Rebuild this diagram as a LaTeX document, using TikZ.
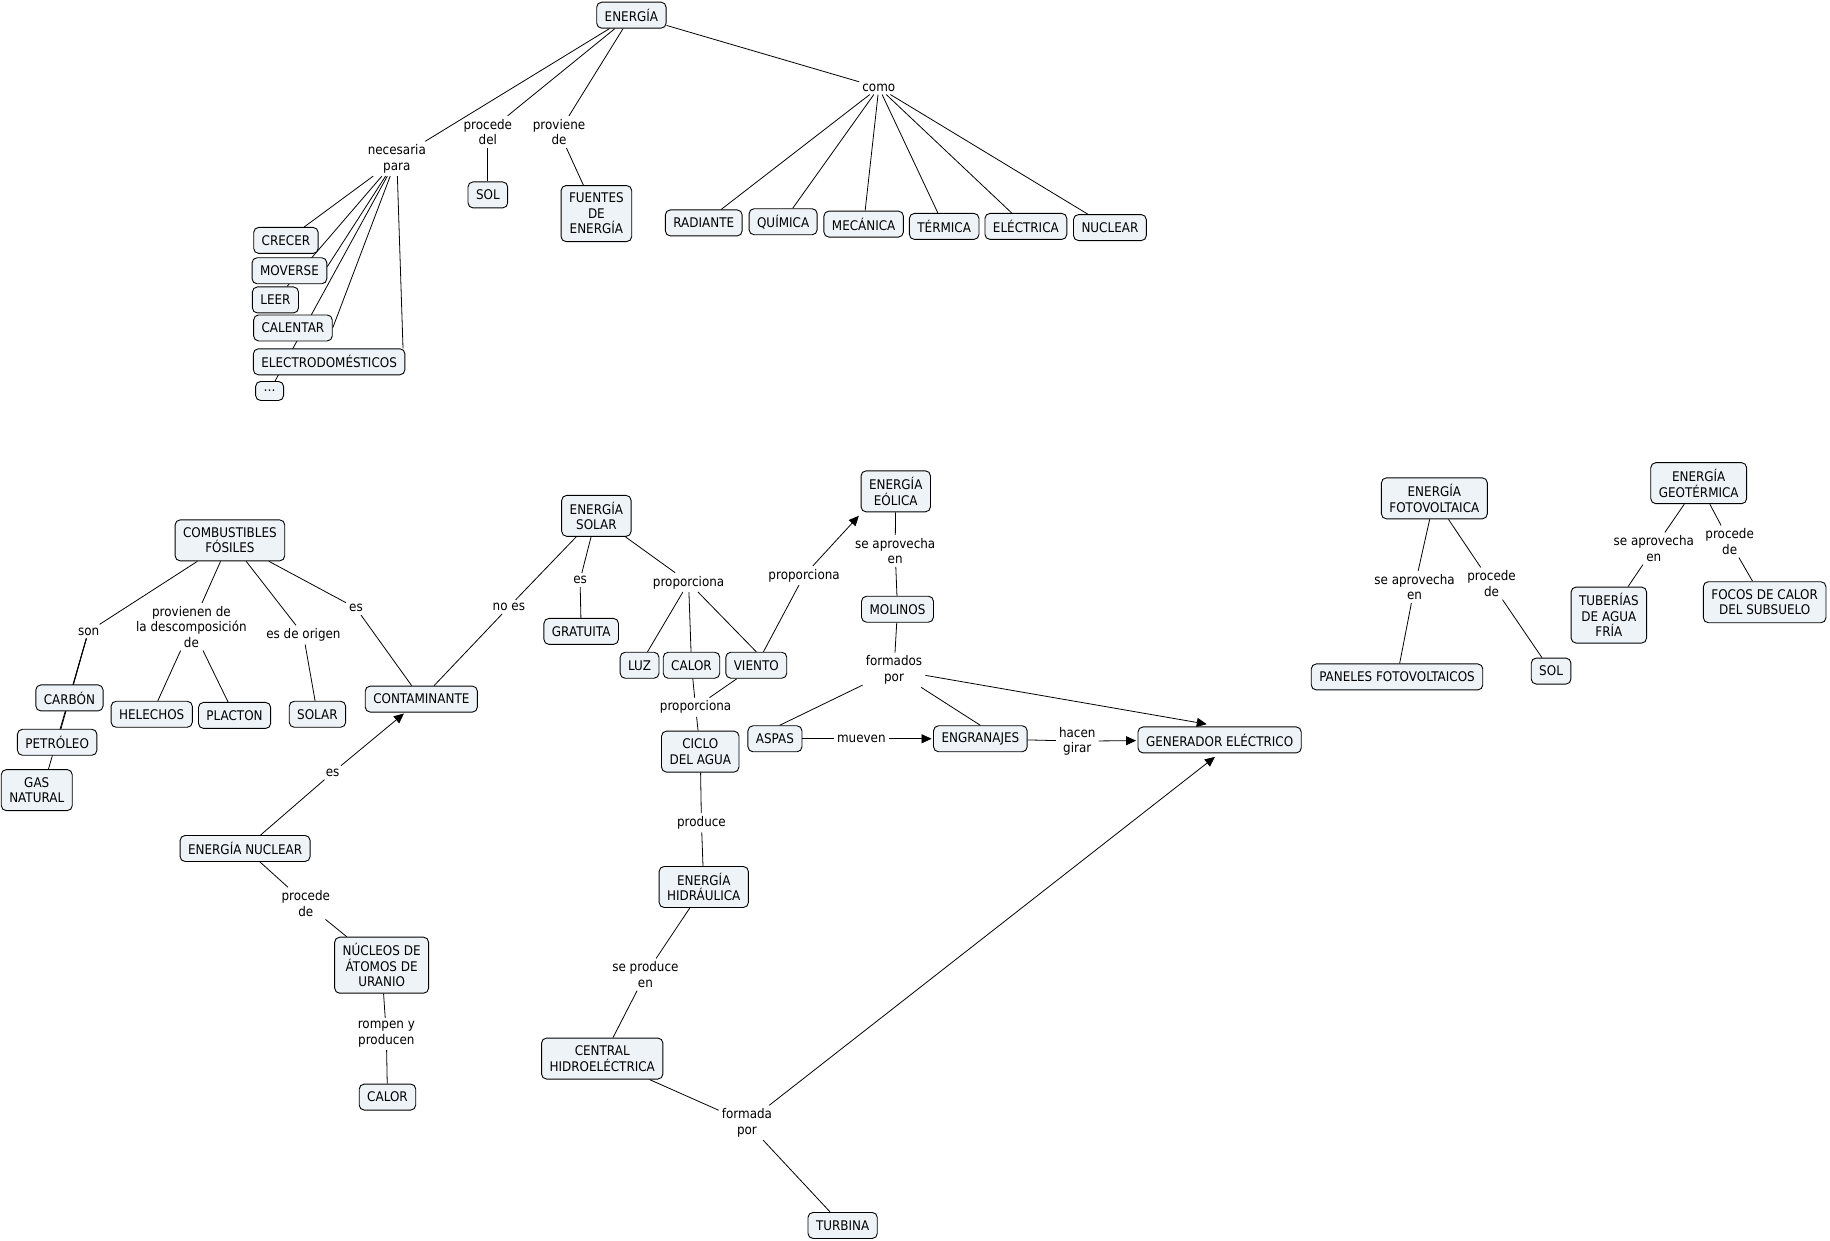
\documentclass[tikz,border=0pt]{standalone}
\usepackage{fontspec}
\setmainfont{DejaVu Sans}[FakeStretch=0.9]
\usetikzlibrary{arrows.meta,calc}
\definecolor{cfill}{RGB}{237,243,246}
\pgfdeclarelayer{bg}
\pgfsetlayers{bg,main}
\begin{document}
\begin{tikzpicture}[x=1.1671pt,y=-1.1671pt,
  every node/.style={font=\fontsize{13.3}{15.5}\selectfont},
  cc/.style={draw=black,line width=0.9pt,fill=cfill,rounded corners=5pt,inner xsep=8pt,inner ysep=2pt,align=center,minimum height=26pt},
  cc2/.style={cc,minimum height=41pt},
  cc3/.style={cc,minimum height=56pt},
  lp/.style={inner xsep=3pt,inner ysep=3pt,align=center},
  ln/.style={line width=0.8pt},
  ar/.style={ln,-{Triangle[length=10pt,width=9pt]}}]
\useasboundingbox (0,0) rectangle (1568,1063);
% ---------- top cluster
\node[cc] (energia) at (541,13) {ENERGÍA};
\node[lp] (np) at (340,136) {necesaria\\para};
\node[lp] (pd) at (418,113) {procede\\del};
\node[lp] (pv) at (479,113) {proviene\\de};
\node[lp] (como) at (753,75) {como};
\node[cc] (sol1) at (418,167) {SOL};
\node[cc3] (fuentes) at (511,183) {FUENTES\\DE\\ENERGÍA};
\node[cc] (radiante) at (603,191) {RADIANTE};
\node[cc] (quimica) at (671,190) {QUÍMICA};
\node[cc] (mecanica) at (740,192) {MECÁNICA};
\node[cc] (termica) at (809,194) {TÉRMICA};
\node[cc] (electrica) at (879,194) {ELÉCTRICA};
\node[cc] (nuclear) at (951,195) {NUCLEAR};
\node[cc] (crecer) at (245,206) {CRECER};
\node[cc] (moverse) at (248,232) {MOVERSE};
\node[cc] (leer) at (236,257) {LEER};
\node[cc] (calentar) at (251,281) {CALENTAR};
\node[cc] (electro) at (282,310) {ELECTRODOMÉSTICOS};
\node[cc,minimum height=19pt] (dots) at (231,335) {…};
% ---------- fossil fuels
\node[cc2] (comb) at (197,463) {COMBUSTIBLES\\FÓSILES};
\node[lp] (son) at (76,541) {son};
\coordinate (sonb) at ($(son.south)+(-2,0)$);
\node[lp] (prov) at (164,537) {provienen de\\la descomposición\\de};
\node[lp] (eso) at (260,544) {es de origen};
\node[lp] (es1) at (305,521) {es};
\node[cc] (carbon) at (59.5,598) {CARBÓN};
\node[cc] (petroleo) at (49,636) {PETRÓLEO};
\node[cc2] (gas) at (31.5,677) {GAS\\NATURAL};
\node[cc] (helechos) at (130,612) {HELECHOS};
\node[cc] (placton) at (201,613) {PLACTON};
\node[cc] (solar) at (272,612) {SOLAR};
\node[cc] (conta) at (361,599) {CONTAMINANTE};
% ---------- nuclear
\node[cc] (nucl) at (210,727) {ENERGÍA NUCLEAR};
\node[lp] (es2) at (285,662) {es};
\node[lp] (pdn) at (262,774) {procede\\de};
\node[cc3] (nucleos) at (327,827) {NÚCLEOS DE\\ÁTOMOS DE\\URANIO};
\node[lp] (romp) at (331,886) {rompen y\\producen};
\node[cc] (calor2) at (332,940) {CALOR};
% ---------- solar / wind / water
\node[cc2] (esolar) at (511,442) {ENERGÍA\\SOLAR};
\node[lp] (noes) at (436,520) {no es};
\node[lp] (es3) at (497,497) {es};
\node[lp] (prop1) at (590,499) {proporciona};
\node[cc] (gratuita) at (498,541) {GRATUITA};
\node[cc] (luz) at (548,570) {LUZ};
\node[cc] (calor1) at (592.5,570) {CALOR};
\node[cc] (viento) at (648,570) {VIENTO};
\node[lp] (prop2) at (596,606) {proporciona};
\node[cc2] (ciclo) at (600,644) {CICLO\\DEL AGUA};
\node[lp] (prop3) at (689,493) {proporciona};
\node[cc2] (eolica) at (767.5,421) {ENERGÍA\\EÓLICA};
\node[lp] (sae) at (767,472) {se aprovecha\\en};
\node[cc] (molinos) at (769,522) {MOLINOS};
\node[lp] (fp) at (766,574) {formados\\por};
\node[cc] (aspas) at (664,633) {ASPAS};
\node[lp] (mueven) at (738,633) {mueven};
\node[cc] (engr) at (840,633) {ENGRANAJES};
\node[lp] (hg) at (923,635) {hacen\\girar};
\node[cc] (gen) at (1045,634) {GENERADOR ELÉCTRICO};
\node[lp] (produce) at (601,705) {produce};
\node[cc2] (hidra) at (603,760) {ENERGÍA\\HIDRÁULICA};
\node[lp] (spe) at (553,835) {se produce\\en};
\node[cc2] (central) at (516,907) {CENTRAL\\HIDROELÉCTRICA};
\node[lp] (fdp) at (640,962) {formada\\por};
\node[cc] (turbina) at (722,1050) {TURBINA};
% ---------- right
\node[cc2] (foto) at (1229,427) {ENERGÍA\\FOTOVOLTAICA};
\node[lp] (sae2) at (1212,503) {se aprovecha\\en};
\node[lp] (pdf) at (1278,500) {procede\\de};
\node[cc] (paneles) at (1197,580) {PANELES FOTOVOLTAICOS};
\node[cc] (sol2) at (1329,575) {SOL};
\node[cc2] (geo) at (1455.5,414) {ENERGÍA\\GEOTÉRMICA};
\node[lp] (sae3) at (1417,470) {se aprovecha\\en};
\node[lp] (pdg) at (1482,464) {procede\\de};
\node[cc3] (tuberias) at (1378.5,527) {TUBERÍAS\\DE AGUA\\FRÍA};
\node[cc2] (focos) at (1512,516) {FOCOS DE CALOR\\DEL SUBSUELO};
% ---------- connectors
\begin{pgfonlayer}{bg}
\draw[ln] (energia) -- (np);
\draw[ln] (energia) -- (pd);
\draw[ln] (energia) -- (pv);
\draw[ln] (energia) -- (como);
\draw[ln] (pd) -- (sol1);
\draw[ln] (pv) -- (fuentes);
\foreach \t in {radiante,quimica,mecanica,termica,electrica,nuclear}
  \draw[ln] (como) -- (\t);
\draw[ln] (np) -- (crecer);
\draw[ln] (np) -- (leer);
\draw[ln] (np) -- ($(moverse.east)+(0,-3.5)$);
\draw[ln] (np) -- (dots);
\draw[ln] (np) -- (calentar.east);
\draw[ln] (np) -- ($(electro.north east)+(-2,0)$);
\draw[ln] (comb) -- (son);
\draw[ln] (sonb) -- (carbon);
\draw[ln] (sonb) -- (petroleo);
\draw[ln] (sonb) -- ($(gas.north)+(10,0)$);
\draw[ln] (comb) -- (prov);
\draw[ln] (prov) -- (helechos);
\draw[ln] (prov) -- (placton);
\draw[ln] (comb) -- (eso);
\draw[ln] (eso) -- (solar);
\draw[ln] (comb) -- (es1);
\draw[ln] (es1) -- (conta);
\draw[ln] (nucl) -- (es2);
\draw[ar,shorten >=1.5pt] (es2) -- (conta);
\draw[ln] (nucl) -- (pdn);
\draw[ln] (pdn) -- (nucleos);
\draw[ln] (nucleos) -- (romp);
\draw[ln] (romp) -- (calor2);
\draw[ln] (esolar) -- (noes);
\draw[ln] (noes) -- (conta);
\draw[ln] (esolar) -- (es3);
\draw[ln] (es3) -- (gratuita);
\draw[ln] (esolar) -- (prop1);
\draw[ln] (prop1) -- (luz);
\draw[ln] (prop1) -- (calor1);
\draw[ln] (prop1) -- (viento.north);
\draw[ln] (calor1) -- (prop2);
\draw[ln] (viento) -- (prop2);
\draw[ln] (prop2) -- (ciclo);
\draw[ln] (viento) -- (prop3);
\draw[ar] (prop3) -- ($(eolica.south west)+(-1.5,3)$);
\draw[ln] (eolica) -- (sae);
\draw[ln] (sae) -- (molinos);
\draw[ln] (molinos) -- (fp);
\draw[ln] (fp) -- ($(aspas.north)+(4,0)$);
\draw[ln] (fp) -- (engr.north);
\draw[ar] (fp) -- ($(gen.north)+(-11,-2)$);
\draw[ln] (aspas) -- (mueven);
\draw[ar,shorten >=1.5pt] (mueven) -- (engr);
\draw[ln] (engr) -- (hg);
\draw[ar,shorten >=1.5pt] (hg) -- (gen);
\draw[ln] (ciclo) -- (produce);
\draw[ln] (produce) -- (hidra);
\draw[ln] (hidra) -- (spe);
\draw[ln] (spe) -- (central);
\draw[ln] (central) -- (fdp);
\draw[ln] (fdp) -- (turbina);
\draw[ar] (fdp) -- ($(gen.south)+(-4,3)$);
\draw[ln] (foto) -- (sae2);
\draw[ln] (sae2) -- (paneles);
\draw[ln] (foto) -- (pdf);
\draw[ln] (pdf) -- (sol2);
\draw[ln] (geo) -- (sae3);
\draw[ln] (sae3) -- (tuberias);
\draw[ln] (geo) -- (pdg);
\draw[ln] (pdg) -- (focos);
\end{pgfonlayer}
\end{tikzpicture}
\end{document}
